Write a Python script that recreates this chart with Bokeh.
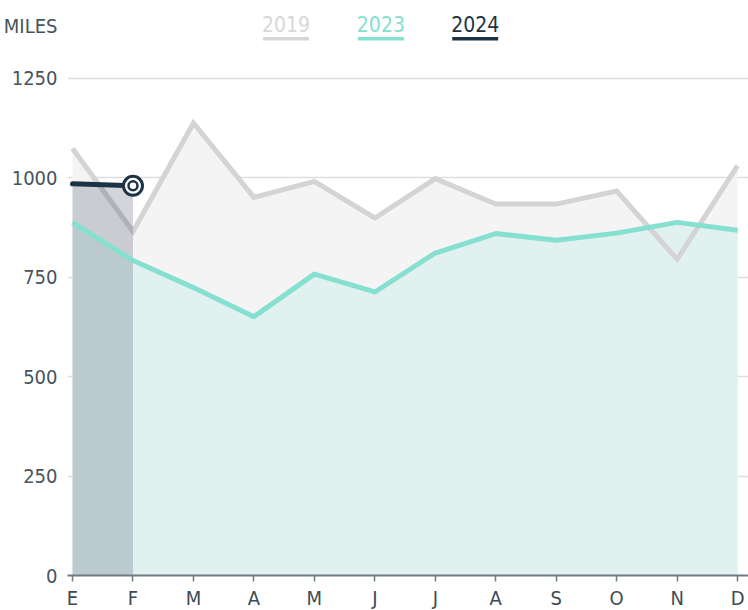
from bokeh.plotting import figure
from bokeh.models import Range1d, FixedTicker, ColumnDataSource
from bokeh.core.properties import value
from bokeh.embed import file_html
from bokeh.resources import INLINE

months = ["E", "F", "M", "A", "M", "J", "J", "A", "S", "O", "N", "D"]
v2019 = [1074, 865, 1138, 951, 991, 899, 998, 934, 934, 967, 795, 1031]
v2023 = [888, 792, 724, 651, 758, 713, 811, 860, 843, 861, 888, 868]
v2024 = [985, 980]
y_ticks = [0, 250, 500, 750, 1000, 1250]
series_names = ["2019", "2023", "2024"]
unit_label = "MILES"

FONT = "'DejaVu Sans Condensed', 'Liberation Sans Narrow', Roboto"
GREY = "#d4d4d4"
TEAL = "#86e0d0"
NAVY = "#1c3345"

x_all = list(range(len(months)))
x24 = x_all[:len(v2024)]

Y_TOP = 1446
UNIT_Y = 1383

p = figure(width=748, frame_height=575, output_backend="svg", toolbar_location=None,
           x_range=Range1d(-0.083, 11.18), y_range=Range1d(0, Y_TOP),
           min_border_left=60, min_border_right=0, min_border_top=0,
           min_border_bottom=20, outline_line_color=None)
p.background_fill_color = "white"
p.border_fill_color = "white"

# areas
p.varea(x=x_all, y1=0, y2=v2019, fill_color="#f4f4f4")
p.varea(x=x_all, y1=0, y2=v2023, fill_color="#e1f1f0")
p.line(x_all, v2019, line_color=GREY, line_width=5, line_join="miter")
p.varea(x=x24, y1=0, y2=v2024, fill_color=NAVY, fill_alpha=0.2)
p.line(x_all, v2023, line_color=TEAL, line_width=5, line_join="round")
p.line(x24, v2024, line_color=NAVY, line_width=5, line_cap="round")
p.scatter([x24[-1]], [v2024[-1]], size=19, fill_color="white", line_color=NAVY, line_width=3)
p.scatter([x24[-1]], [v2024[-1]], size=9, fill_color="white", line_color=NAVY, line_width=2.5)

# axes
p.xgrid.grid_line_color = None
p.ygrid.ticker = FixedTicker(ticks=y_ticks)
p.ygrid.grid_line_color = "#dedede"
p.ygrid.grid_line_width = 1.5
p.yaxis.ticker = FixedTicker(ticks=y_ticks + [UNIT_Y])
p.yaxis.major_label_overrides = {UNIT_Y: unit_label}
p.yaxis.axis_line_color = None
p.yaxis.major_tick_line_color = None
p.yaxis.minor_tick_line_color = None
p.yaxis.major_label_standoff = 4
p.yaxis.major_label_text_font = FONT
p.yaxis.major_label_text_font_size = "20px"
p.yaxis.major_label_text_color = "#46545e"

p.xaxis.ticker = FixedTicker(ticks=x_all)
p.xaxis.major_label_overrides = {i: m for i, m in enumerate(months)}
p.xaxis.axis_line_color = "#6f7b82"
p.xaxis.axis_line_width = 2
p.xaxis.major_tick_line_color = "#6f7b82"
p.xaxis.major_tick_line_width = 1.5
p.xaxis.major_tick_in = 0
p.xaxis.major_tick_out = 6
p.xaxis.minor_tick_line_color = None
p.xaxis.major_label_standoff = 4
p.xaxis.major_label_text_font = FONT
p.xaxis.major_label_text_font_size = "20px"
p.xaxis.major_label_text_color = "#3d4b55"

# legend (layout constants)
leg_x = [3.53, 5.10, 6.66]
leg_colors = ["#d6d6d6", TEAL, NAVY]
leg_text_colors = ["#d8d8d8", "#86e0d0", "#1c3345"]
src = ColumnDataSource(dict(x=leg_x, y=[1386] * 3, t=series_names, c=leg_text_colors,
                            x0=[x - 0.38 for x in leg_x], x1=[x + 0.38 for x in leg_x],
                            yl=[1350] * 3, lc=leg_colors))
p.text(x="x", y="y", text="t", text_color="c", source=src, text_align="center",
       text_baseline="middle", text_font=value(FONT), text_font_size="21px")
p.segment(x0="x0", y0="yl", x1="x1", y1="yl", line_color="lc", line_width=3.5, source=src)

open("out.html", "w").write(file_html(p, INLINE))
